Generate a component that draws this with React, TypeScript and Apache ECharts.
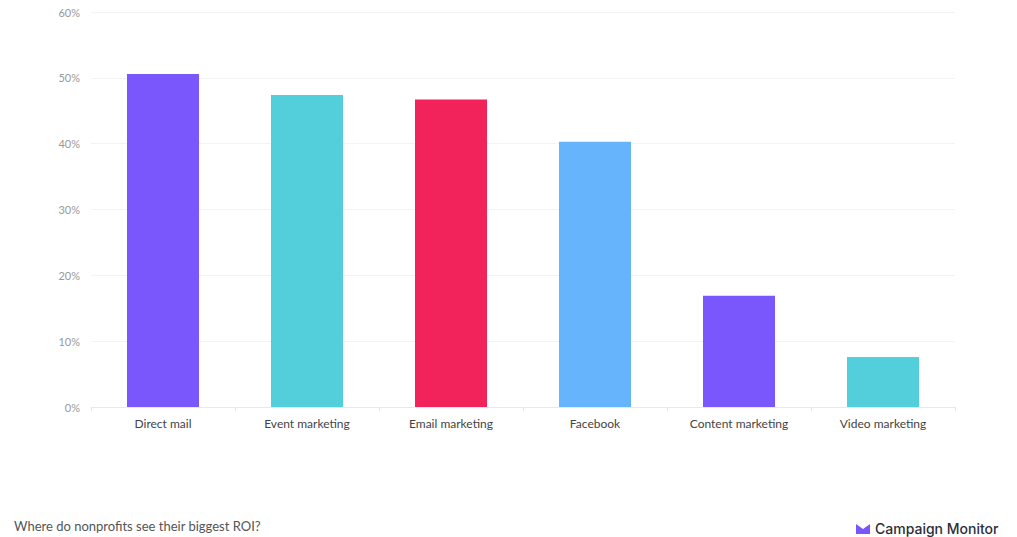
import React, { useEffect, useRef } from "react";
import * as echarts from "echarts";

const categories = ["Direct mail", "Event marketing", "Email marketing", "Facebook", "Content marketing", "Video marketing"];
const values = [50.6, 47.4, 46.7, 40.3, 16.9, 7.6];
const barColors = ["#7a57fc", "#53cfdc", "#f2225b", "#66b5fc", "#7a57fc", "#53cfdc"];
const yTicks = [0, 10, 20, 30, 40, 50, 60];
const caption = "Where do nonprofits see their biggest ROI?";
const brand = "Campaign Monitor";

export default function App() {
  const ref = useRef<HTMLDivElement>(null);
  useEffect(() => {
    if (!ref.current) return;
    const chart = echarts.init(ref.current, null, { renderer: "svg" });
    chart.setOption({
      animation: false,
      backgroundColor: "#ffffff",
      textStyle: { fontFamily: "Lato, 'Open Sans', sans-serif" },
      grid: { left: 91, right: 62, top: 12, bottom: 130, containLabel: false },
      xAxis: {
        type: "category",
        data: categories,
        axisLine: { show: true, lineStyle: { color: "#e8e8e8" } },
        axisTick: { show: true, alignWithLabel: false, length: 4, lineStyle: { color: "#e8e8e8" } },
        axisLabel: { color: "#444444", fontSize: 12, margin: 10, fontFamily: "Lato, sans-serif" },
      },
      yAxis: {
        type: "value",
        min: yTicks[0],
        max: yTicks[yTicks.length - 1],
        interval: 10,
        axisLine: { show: false },
        axisTick: { show: false },
        splitLine: { lineStyle: { color: "#f3f3f3" } },
        axisLabel: { color: "#999999", fontSize: 11, margin: 11, formatter: "{value}%", fontFamily: "Lato, sans-serif" },
      },
      series: [
        {
          type: "bar",
          barWidth: 72,
          data: values.map((v, i) => ({ value: v, itemStyle: { color: barColors[i] } })),
        },
      ],
      graphic: [
        {
          type: "text",
          left: 14,
          top: 519,
          style: { text: caption, fill: "#555555", fontSize: 13, fontFamily: "Lato, sans-serif" },
        },
        {
          type: "polygon",
          shape: { points: [[856, 524], [863, 529], [870, 524], [870, 534], [856, 534]] },
          style: { fill: "#7a57fc" },
        },
        {
          type: "text",
          left: 875,
          top: 521,
          style: { text: brand, fill: "#2d2d3a", fontSize: 14, fontWeight: 500, fontFamily: "Inter, sans-serif" },
        },
      ],
    });
    return () => chart.dispose();
  }, []);
  return <div ref={ref} style={{ position: "fixed", left: 0, top: 0, width: 1017, height: 537 }} />;
}
